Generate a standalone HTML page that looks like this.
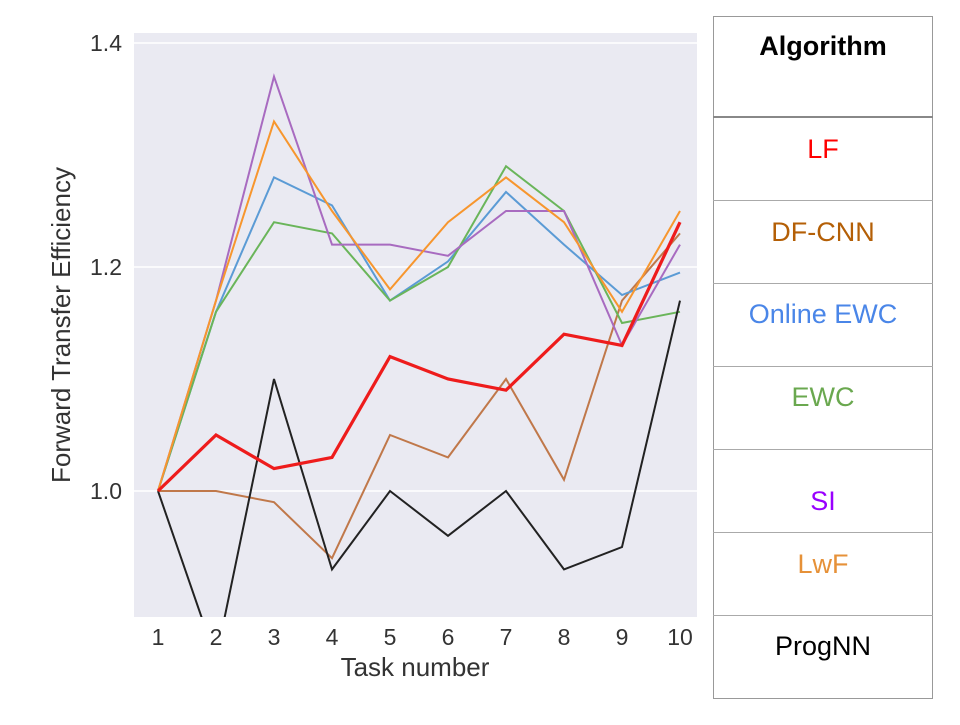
<!DOCTYPE html>
<html><head><meta charset="utf-8"><style>
body{margin:0;background:#fff;width:960px;height:720px;overflow:hidden;font-family:"Liberation Sans",sans-serif}
</style></head><body>
<svg width="960" height="720">
<defs><clipPath id="pc"><rect x="134" y="33" width="563" height="584"/></clipPath></defs>
<rect x="134" y="33" width="563" height="584" fill="#eaeaf2"/>
<g id="grid"></g>
<g id="lines" clip-path="url(#pc)"></g>
<g id="ticks" font-size="23" fill="#333"></g>
<text x="415" y="676" font-size="26" fill="#333" text-anchor="middle">Task number</text>
<text transform="translate(70,325) rotate(-90)" font-size="26" fill="#333" text-anchor="middle">Forward Transfer Efficiency</text>
<g font-size="27" text-anchor="middle">
<rect x="713.5" y="16.5" width="219" height="682" fill="none" stroke="#999" stroke-width="1"/>
<line x1="713" x2="933" y1="117" y2="117" stroke="#888" stroke-width="2"/>
<line x1="713" x2="933" y1="200.5" y2="200.5" stroke="#aaa"/>
<line x1="713" x2="933" y1="283.5" y2="283.5" stroke="#aaa"/>
<line x1="713" x2="933" y1="366.5" y2="366.5" stroke="#aaa"/>
<line x1="713" x2="933" y1="449.5" y2="449.5" stroke="#aaa"/>
<line x1="713" x2="933" y1="532.5" y2="532.5" stroke="#aaa"/>
<line x1="713" x2="933" y1="615.5" y2="615.5" stroke="#aaa"/>
<text x="823" y="55" font-weight="bold" fill="#000">Algorithm</text>
<text x="823" y="158" fill="#ff0000">LF</text>
<text x="823" y="241" fill="#b45f06">DF-CNN</text>
<text x="823" y="323" fill="#4a86e8">Online EWC</text>
<text x="823" y="406" fill="#6aa84f">EWC</text>
<text x="823" y="510" fill="#9900ff">SI</text>
<text x="823" y="573" fill="#e69138">LwF</text>
<text x="823" y="655" fill="#000">ProgNN</text>
</g>
</svg>
<script>
const tasks=[1,2,3,4,5,6,7,8,9,10];
const yTicks=[1.0,1.2,1.4];
const lfVals=[1.0,1.05,1.02,1.03,1.12,1.10,1.09,1.14,1.13,1.24];
const dfcnnVals=[1.0,1.0,0.99,0.94,1.05,1.03,1.10,1.01,1.17,1.23];
const onlineEwcVals=[1.0,1.16,1.28,1.255,1.17,1.205,1.267,1.22,1.175,1.195];
const ewcVals=[1.0,1.16,1.24,1.23,1.17,1.20,1.29,1.25,1.15,1.16];
const siVals=[1.0,1.17,1.37,1.22,1.22,1.21,1.25,1.25,1.13,1.22];
const lwfVals=[1.0,1.17,1.33,1.25,1.18,1.24,1.28,1.24,1.16,1.25];
const progVals=[1.0,0.85,1.10,0.93,1.0,0.96,1.0,0.93,0.95,1.17];
const X=t=>158+(t-1)*58;
const Y=v=>491-(v-1.0)*1120;
const NS='http://www.w3.org/2000/svg';
const grid=document.getElementById('grid'),ticks=document.getElementById('ticks'),lines=document.getElementById('lines');
yTicks.forEach(v=>{
 const l=document.createElementNS(NS,'line');
 
 
 l.setAttribute('x1',134);l.setAttribute('x2',697);l.setAttribute('y1',Y(v));l.setAttribute('y2',Y(v));
 l.setAttribute('stroke','#fff');l.setAttribute('stroke-width',1.5);grid.appendChild(l);
 const t=document.createElementNS(NS,'text');
 
 
 t.setAttribute('x',122);t.setAttribute('y',Y(v)+8);t.setAttribute('text-anchor','end');
 t.textContent=v.toFixed(1);ticks.appendChild(t);
});
tasks.forEach(k=>{
 const t=document.createElementNS(NS,'text');
 
 
 t.setAttribute('x',X(k));t.setAttribute('y',645);t.setAttribute('text-anchor','middle');
 t.textContent=k;ticks.appendChild(t);
});
const series=[[dfcnnVals,'#c0784a',2,'line-dfcnn'],[onlineEwcVals,'#5b9bd5',2,'line-online-ewc'],[ewcVals,'#6ab55a',2,'line-ewc'],[siVals,'#a86bc0',2,'line-si'],[lwfVals,'#f7962e',2,'line-lwf'],[progVals,'#222',2,'line-prognn'],[lfVals,'#ee1c1c',3.2,'line-lf']];
series.forEach(([vals,c,w,n])=>{
 const p=document.createElementNS(NS,'polyline');
 
 
 p.setAttribute('points',vals.map((v,i)=>X(tasks[i])+','+Y(v)).join(' '));
 p.setAttribute('fill','none');p.setAttribute('stroke',c);p.setAttribute('stroke-width',w);
 lines.appendChild(p);
});
</script>
</body></html>
